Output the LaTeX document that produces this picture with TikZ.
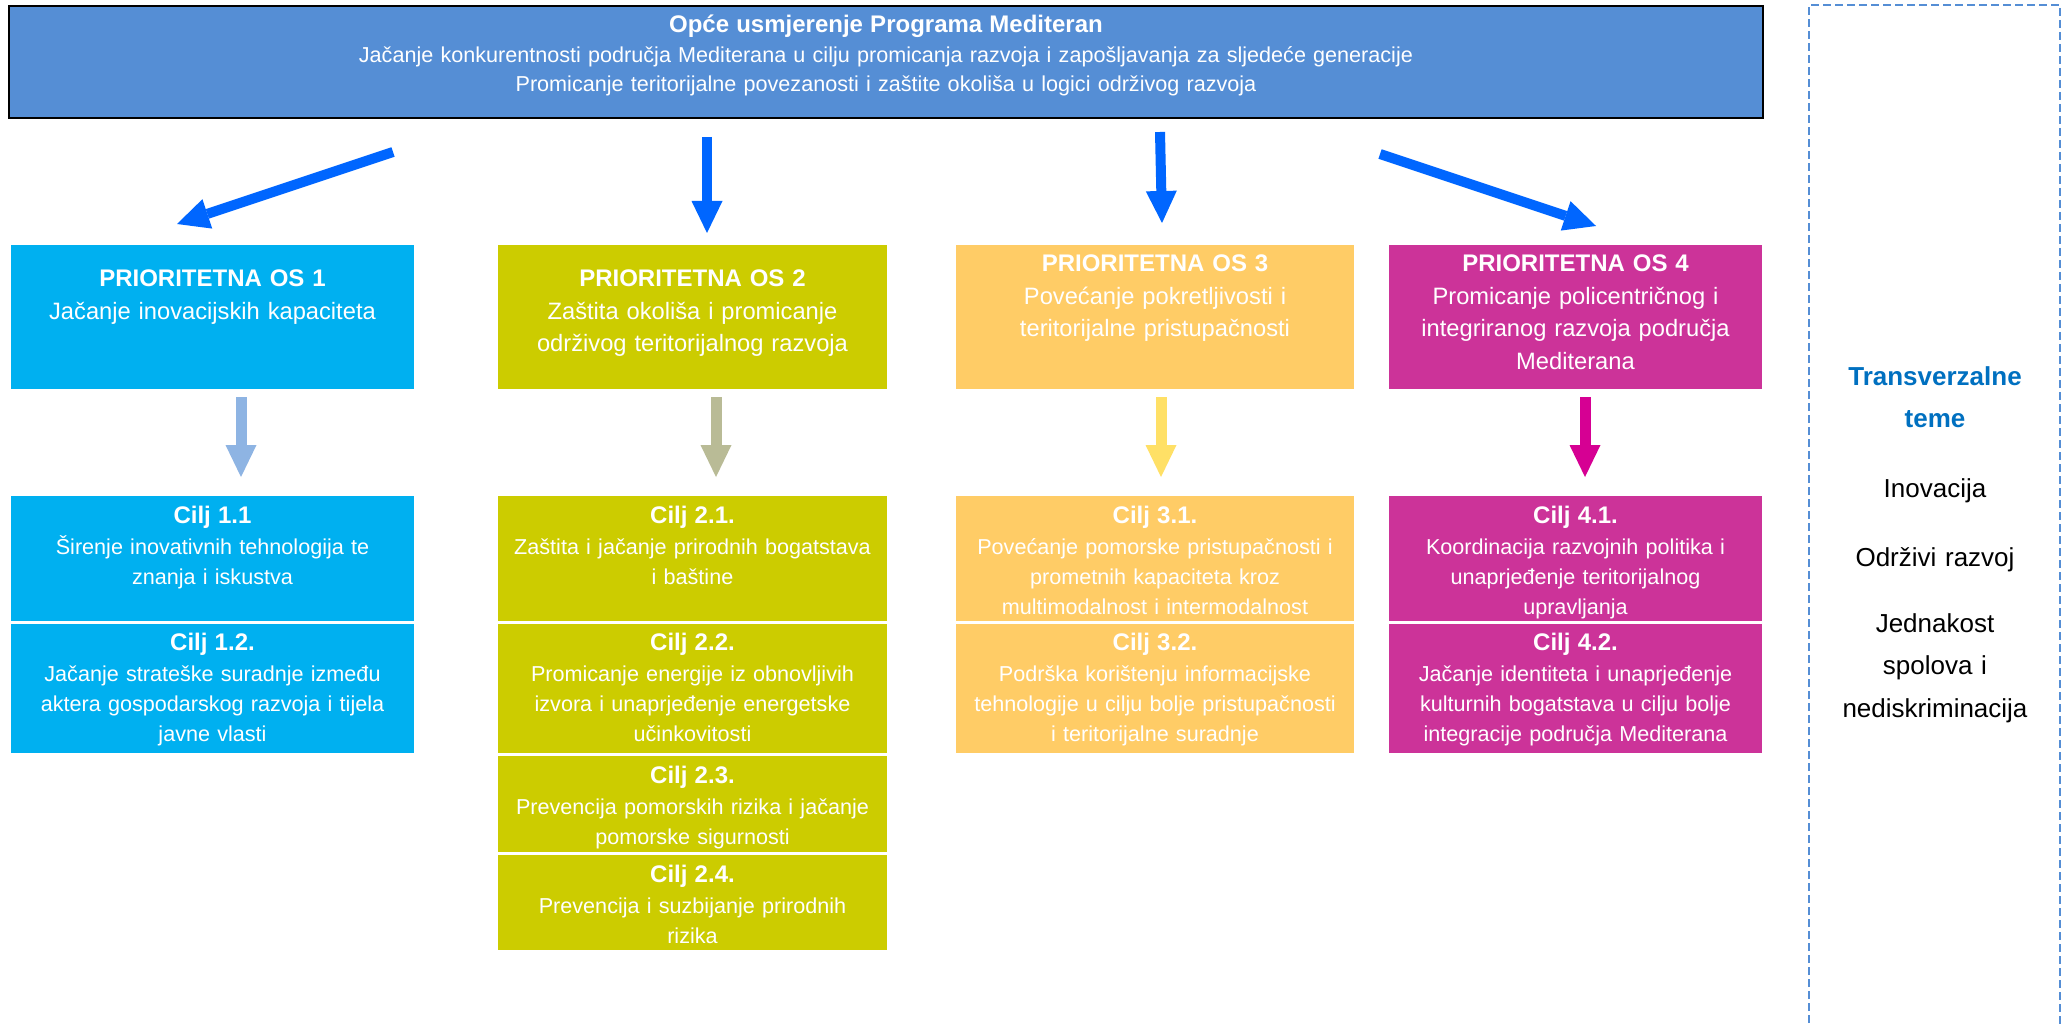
\documentclass[tikz,border=0pt]{standalone}
\usepackage{fontspec}
\setmainfont{Liberation Sans}
\usetikzlibrary{arrows.meta}
\definecolor{topfill}{HTML}{558ED5}
\definecolor{cA}{HTML}{00B0F0}
\definecolor{cB}{HTML}{CCCC00}
\definecolor{cC}{HTML}{FFCC66}
\definecolor{cD}{HTML}{CC3399}
\definecolor{arrowblue}{HTML}{0066FF}
\definecolor{aA}{HTML}{8EB4E3}
\definecolor{aB}{HTML}{B9BB96}
\definecolor{aC}{HTML}{FFE066}
\definecolor{aD}{HTML}{D60093}
\definecolor{tvblue}{HTML}{0070C0}
\definecolor{dashblue}{HTML}{558ED5}
\begin{document}
\begin{tikzpicture}[x=1pt,y=-1pt,
  boxnode/.style={rectangle, inner sep=0pt, outer sep=0pt, draw=none},
  txt/.style={inner sep=0pt, outer sep=0pt, text=white, align=center, anchor=base},
  toptxt/.style={txt, text width=1700pt, font=\fontsize{21.6}{29.5}\selectfont},
  potxt/.style={txt, font=\fontsize{23.7}{32.5}\selectfont},
  ciljtxt/.style={txt, font=\fontsize{21.6}{30}\selectfont},
  tvtxt/.style={inner sep=0pt, outer sep=0pt, align=center, anchor=base, text width=240pt, font=\fontsize{26}{42.5}\selectfont},
  bigarrow/.style={draw=arrowblue, line width=10pt, -{Triangle[length=32pt,width=31pt,line width=0pt]}},
  smallarrow/.style={line width=11pt, -{Triangle[length=32pt,width=31pt,line width=0pt]}}
]
\useasboundingbox (0,0) rectangle (2067,1027);
\fill[white] (0,0) rectangle (2067,1027);

% top box
\node[boxnode, fill=topfill, draw=black, line width=2.5pt, minimum width=1754pt, minimum height=112pt] (top) at (886,62) {};
\node[toptxt] (toptext) at (886,33) {{\bfseries\fontsize{24}{29.5}\selectfont Opće usmjerenje Programa Mediteran}\\
Jačanje konkurentnosti područja Mediterana u cilju promicanja razvoja i zapošljavanja za sljedeće generacije\\
Promicanje teritorijalne povezanosti i zaštite okoliša u logici održivog razvoja};

% priority axis boxes
\node[boxnode, fill=cA, minimum width=403pt, minimum height=144pt] (po1) at (212.5,317) {};
\node[boxnode, fill=cB, minimum width=389pt, minimum height=144pt] (po2) at (692.5,317) {};
\node[boxnode, fill=cC, minimum width=398pt, minimum height=144pt] (po3) at (1155,317) {};
\node[boxnode, fill=cD, minimum width=373pt, minimum height=144pt] (po4) at (1575.5,317) {};

\node[potxt, text width=400pt] (po1t) at (212.5,287) {{\bfseries\fontsize{24}{32.5}\selectfont PRIORITETNA OS 1}\\Jačanje inovacijskih kapaciteta};
\node[potxt, text width=386pt] (po2t) at (692.5,287) {{\bfseries\fontsize{24}{32.5}\selectfont PRIORITETNA OS 2}\\Zaštita okoliša i promicanje\\održivog teritorijalnog razvoja};
\node[potxt, text width=395pt] (po3t) at (1155,272) {{\bfseries\fontsize{24}{32.5}\selectfont PRIORITETNA OS 3}\\Povećanje pokretljivosti i\\teritorijalne pristupačnosti};
\node[potxt, text width=370pt] (po4t) at (1575.5,272) {{\bfseries\fontsize{24}{32.5}\selectfont PRIORITETNA OS 4}\\Promicanje policentričnog i\\integriranog razvoja područja\\Mediterana};

% objective boxes, column 1
\node[boxnode, fill=cA, minimum width=403pt, minimum height=125pt] (c11) at (212.5,558.5) {};
\node[boxnode, fill=cA, minimum width=403pt, minimum height=129pt] (c12) at (212.5,688.5) {};
% column 2
\node[boxnode, fill=cB, minimum width=389pt, minimum height=125pt] (c21) at (692.5,558.5) {};
\node[boxnode, fill=cB, minimum width=389pt, minimum height=129pt] (c22) at (692.5,688.5) {};
\node[boxnode, fill=cB, minimum width=389pt, minimum height=96pt] (c23) at (692.5,804) {};
\node[boxnode, fill=cB, minimum width=389pt, minimum height=95pt] (c24) at (692.5,902.5) {};
% column 3
\node[boxnode, fill=cC, minimum width=398pt, minimum height=125pt] (c31) at (1155,558.5) {};
\node[boxnode, fill=cC, minimum width=398pt, minimum height=129pt] (c32) at (1155,688.5) {};
% column 4
\node[boxnode, fill=cD, minimum width=373pt, minimum height=125pt] (c41) at (1575.5,558.5) {};
\node[boxnode, fill=cD, minimum width=373pt, minimum height=129pt] (c42) at (1575.5,688.5) {};

% objective texts
\node[ciljtxt, text width=400pt] (c11t) at (212.5,523) {{\bfseries\fontsize{24}{30}\selectfont Cilj 1.1}\\[1.5pt]Širenje inovativnih tehnologija te\\znanja i iskustva};
\node[ciljtxt, text width=400pt] (c12t) at (212.5,650) {{\bfseries\fontsize{24}{30}\selectfont Cilj 1.2.}\\[1.5pt]Jačanje strateške suradnje između\\aktera gospodarskog razvoja i tijela\\javne vlasti};
\node[ciljtxt, text width=386pt] (c21t) at (692.5,523) {{\bfseries\fontsize{24}{30}\selectfont Cilj 2.1.}\\[1.5pt]Zaštita i jačanje prirodnih bogatstava\\i baštine};
\node[ciljtxt, text width=386pt] (c22t) at (692.5,650) {{\bfseries\fontsize{24}{30}\selectfont Cilj 2.2.}\\[1.5pt]Promicanje energije iz obnovljivih\\izvora i unaprjeđenje energetske\\učinkovitosti};
\node[ciljtxt, text width=386pt] (c23t) at (692.5,783) {{\bfseries\fontsize{24}{30}\selectfont Cilj 2.3.}\\[1.5pt]Prevencija pomorskih rizika i jačanje\\pomorske sigurnosti};
\node[ciljtxt, text width=386pt] (c24t) at (692.5,882) {{\bfseries\fontsize{24}{30}\selectfont Cilj 2.4.}\\[1.5pt]Prevencija i suzbijanje prirodnih\\rizika};
\node[ciljtxt, text width=395pt] (c31t) at (1155,523) {{\bfseries\fontsize{24}{30}\selectfont Cilj 3.1.}\\[1.5pt]Povećanje pomorske pristupačnosti i\\prometnih kapaciteta kroz\\multimodalnost i intermodalnost};
\node[ciljtxt, text width=395pt] (c32t) at (1155,650) {{\bfseries\fontsize{24}{30}\selectfont Cilj 3.2.}\\[1.5pt]Podrška korištenju informacijske\\tehnologije u cilju bolje pristupačnosti\\i teritorijalne suradnje};
\node[ciljtxt, text width=370pt] (c41t) at (1575.5,523) {{\bfseries\fontsize{24}{30}\selectfont Cilj 4.1.}\\[1.5pt]Koordinacija razvojnih politika i\\unaprjeđenje teritorijalnog\\upravljanja};
\node[ciljtxt, text width=370pt] (c42t) at (1575.5,650) {{\bfseries\fontsize{24}{30}\selectfont Cilj 4.2.}\\[1.5pt]Jačanje identiteta i unaprjeđenje\\kulturnih bogatstava u cilju bolje\\integracije područja Mediterana};

% big arrows
\coordinate (b1s) at (393,152);
\coordinate (b1e) at (177,224);
\coordinate (b2s) at (707,137);
\coordinate (b2e) at (707,233);
\coordinate (b3s) at (1160,132);
\coordinate (b3e) at (1162,223);
\coordinate (b4s) at (1380,154);
\coordinate (b4e) at (1596,226);
\draw[bigarrow] (b1s) -- (b1e);
\draw[bigarrow] (b2s) -- (b2e);
\draw[bigarrow] (b3s) -- (b3e);
\draw[bigarrow] (b4s) -- (b4e);

% small arrows
\coordinate (s1s) at (241,397);
\coordinate (s1e) at (241,477);
\coordinate (s2s) at (716,397);
\coordinate (s2e) at (716,477);
\coordinate (s3s) at (1161,397);
\coordinate (s3e) at (1161,477);
\coordinate (s4s) at (1585,397);
\coordinate (s4e) at (1585,477);
\draw[smallarrow, draw=aA] (s1s) -- (s1e);
\draw[smallarrow, draw=aB] (s2s) -- (s2e);
\draw[smallarrow, draw=aC] (s3s) -- (s3e);
\draw[smallarrow, draw=aD] (s4s) -- (s4e);

% transversal themes
\draw[dashblue, line width=2pt, dash pattern=on 8pt off 4pt] (1809,1035) -- (1809,5) -- (2060,5) -- (2060,1035);
\node[tvtxt] (tv1) at (1935,385) {\bfseries\color{tvblue}Transverzalne\\teme};
\node[tvtxt] (tv2) at (1935,497) {Inovacija};
\node[tvtxt] (tv3) at (1935,566) {Održivi razvoj};
\node[tvtxt] (tv4) at (1935,632) {Jednakost\\spolova i\\nediskriminacija};
\end{tikzpicture}
\end{document}
